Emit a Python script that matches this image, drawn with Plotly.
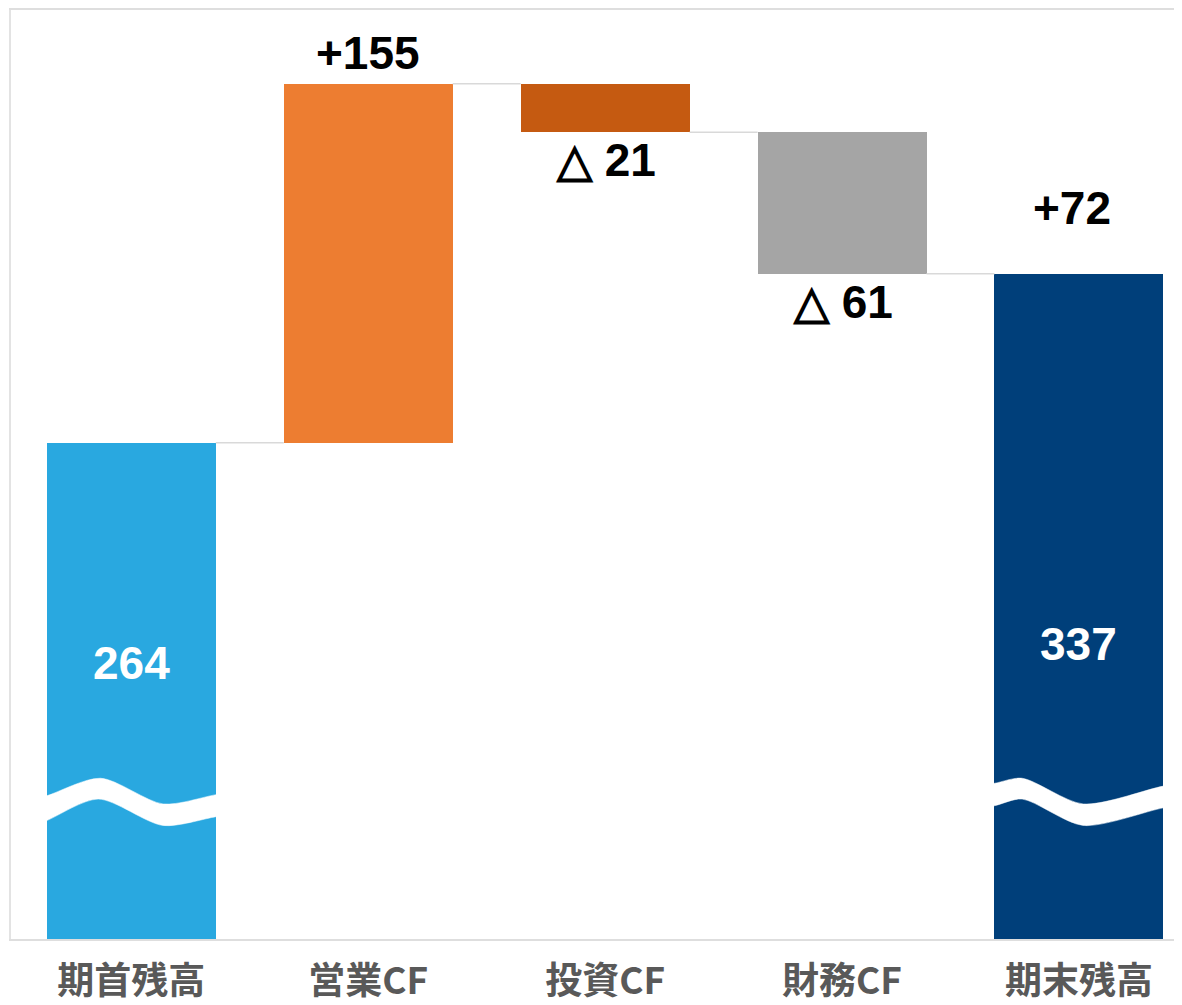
import plotly.graph_objects as go

# ---- data ----
categories = ["期首残高", "営業CF", "投資CF", "財務CF", "期末残高"]
amounts = [264, 155, -21, -61, 337]
kinds = ["total", "relative", "relative", "relative", "total"]
value_labels = ["264", "+155", "△ 21", "△ 61", "337"]
net_change_label = "+72"
bar_colors = ["#29A8E0", "#ED7D31", "#C55A11", "#A5A5A5", "#003F7A"]

# ---- styling / layout constants ----
axis_floor = 49.8          # broken axis: bottom of plot
axis_top = 450.8
bar_width = 0.713
break_level = 108          # where the wavy break is drawn
# wavy band outline (x offset from bar centre, y offset from break level):
# upper edge left->right, then lower edge right->left
wave_patterns = {
    0: ([-0.46, -0.357, -0.13, 0.134, 0.357, 0.46,
         0.46, 0.357, 0.134, -0.14, -0.357, -0.46],
        [0.5, 3.6, 11.2, 0.1, 4.1, 5.6,
         -3.8, -5.4, -9.2, 2.2, -7.1, -11.5]),
    4: ([-0.46, -0.357, -0.24, 0.018, 0.357, 0.46,
         0.46, 0.357, 0.018, -0.24, -0.357, -0.46],
        [7.5, 9.0, 11.2, 0.1, 7.8, 9.0,
         -0.5, -1.6, -9.2, 2.2, -0.7, -2.5]),
}
num_font = "Liberation Sans, Arial, sans-serif"
jp_font = "Noto Sans CJK JP, sans-serif"

# compute bases
xs = list(range(len(categories)))
bases, heights, levels = [], [], []
running = 0
for a, k in zip(amounts, kinds):
    if k == "total":
        bases.append(0)
        heights.append(a)
        running = a
    else:
        bases.append(running)
        heights.append(a)
        running += a
    levels.append(running)

fig = go.Figure()
fig.add_trace(go.Bar(
    x=xs, y=heights, base=bases, width=bar_width,
    marker=dict(color=bar_colors, line=dict(width=0)),
    hoverinfo="skip", showlegend=False,
))

# connectors
for i in range(len(xs) - 1):
    fig.add_trace(go.Scatter(
        x=[xs[i] + bar_width / 2, xs[i + 1] - bar_width / 2],
        y=[levels[i], levels[i]],
        mode="lines", line=dict(color="#D9D9D9", width=1.5),
        hoverinfo="skip", showlegend=False,
    ))

# wavy break marks on total bars
for i, (dx, dy) in wave_patterns.items():
    fig.add_trace(go.Scatter(
        x=[xs[i] + d for d in dx],
        y=[break_level + d for d in dy],
        mode="lines", fill="toself", fillcolor="white",
        line=dict(color="white", width=0.5, shape="spline", smoothing=0.8),
        hoverinfo="skip", showlegend=False,
    ))

annotations = []
lab_font = dict(family=num_font, size=46, weight="bold")
# inside labels of totals
annotations.append(dict(x=xs[0], y=169, text=value_labels[0], showarrow=False,
                        font=dict(lab_font, color="white"),
                        xanchor="center", yanchor="middle"))
annotations.append(dict(x=xs[4], y=177, text=value_labels[4], showarrow=False,
                        font=dict(lab_font, color="white"),
                        xanchor="center", yanchor="middle"))
# increase label
annotations.append(dict(x=xs[1], y=levels[1], text=value_labels[1], showarrow=False,
                        font=dict(lab_font, color="black"),
                        xanchor="center", yanchor="bottom", yshift=3))
# decrease labels
for i in (2, 3):
    annotations.append(dict(x=xs[i], y=levels[i], text=value_labels[i], showarrow=False,
                            font=dict(lab_font, color="black"),
                            xanchor="center", yanchor="top", yshift=0))
# net change label above final bar
annotations.append(dict(x=xs[4] - 0.03, y=levels[4], text=net_change_label, showarrow=False,
                        font=dict(lab_font, color="black"),
                        xanchor="center", yanchor="bottom", yshift=38))

fig.update_layout(
    width=1174, height=997, autosize=False,
    margin=dict(l=3, r=0, t=2, b=59),
    paper_bgcolor="white", plot_bgcolor="white",
    annotations=annotations,
    bargap=0,
)
fig.update_xaxes(
    range=[-0.508, 4.435], tickvals=xs, ticktext=categories,
    tickfont=dict(family=jp_font, size=37, color="#595959", weight="bold"),
    ticklabelstandoff=9,
    showline=True, linecolor="#DEDEDE", linewidth=2, mirror=True,
    showgrid=False, zeroline=False, ticks="",
)
fig.update_yaxes(
    range=[axis_floor, axis_top], showticklabels=False,
    showline=True, linecolor="#E3E3E3", linewidth=2,
    showgrid=False, zeroline=False, ticks="",
)

fig.write_html("out.html")
